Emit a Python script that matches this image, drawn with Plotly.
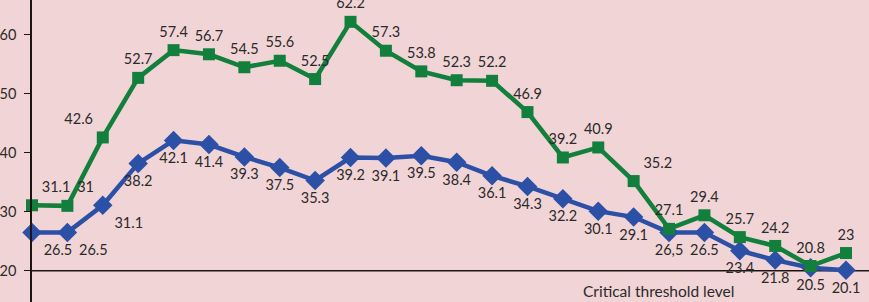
import plotly.graph_objects as go

x_index = list(range(24))
green_values = [31.1, 31, 42.6, 52.7, 57.4, 56.7, 54.5, 55.6, 52.5, 62.2, 57.3, 53.8,
                52.3, 52.2, 46.9, 39.2, 40.9, 35.2, 27.1, 29.4, 25.7, 24.2, 20.8, 23]
blue_values = [26.5, 26.5, 31.1, 38.2, 42.1, 41.4, 39.3, 37.5, 35.3, 39.2, 39.1, 39.5,
               38.4, 36.1, 34.3, 32.2, 30.1, 29.1, 26.5, 26.5, 23.4, 21.8, 20.5, 20.1]
green_labels = ["31.1", "31", "42.6", "52.7", "57.4", "56.7", "54.5", "55.6", "52.5", "62.2",
                "57.3", "53.8", "52.3", "52.2", "46.9", "39.2", "40.9", "35.2", "27.1", "29.4",
                "25.7", "24.2", "20.8", "23"]
blue_labels = ["26.5", "26.5", "31.1", "38.2", "42.1", "41.4", "39.3", "37.5", "35.3", "39.2",
               "39.1", "39.5", "38.4", "36.1", "34.3", "32.2", "30.1", "29.1", "26,5", "26.5",
               "23.4", "21.8", "20.5", "20.1"]
y_ticks = [20, 30, 40, 50, 60]
threshold = 20
threshold_label = "Critical threshold level"

GREEN = "#12803C"
BLUE = "#2C50A6"
BG = "#F1D4D6"
TXT = "#2a2a2a"
FONT = "Lato"

green_pos = ["top center"] * 24
green_pos[0] = "top right"
green_pos[1] = "top right"
green_pos[2] = "top left"
green_pos[17] = "top right"
blue_pos = ["bottom center"] * 24
blue_pos[0] = "bottom right"
blue_pos[1] = "bottom right"
blue_pos[2] = "bottom right"

fig = go.Figure()
fig.add_hline(y=threshold, line=dict(color="#1e1414", width=1.5), layer="below")

fig.add_trace(go.Scatter(
    x=x_index, y=blue_values, mode="lines+markers",
    line=dict(color=BLUE, width=4.5),
    marker=dict(symbol="diamond", size=15, color=BLUE),
    cliponaxis=False, showlegend=False, hoverinfo="skip",
))
fig.add_trace(go.Scatter(
    x=x_index, y=green_values, mode="lines+markers",
    line=dict(color=GREEN, width=4.5),
    marker=dict(symbol="square", size=12, color=GREEN),
    cliponaxis=False, showlegend=False, hoverinfo="skip",
))
# label layers (invisible markers control the text offset)
fig.add_trace(go.Scatter(
    x=x_index, y=blue_values, mode="markers+text",
    marker=dict(size=17, opacity=0),
    text=blue_labels, textposition=blue_pos,
    textfont=dict(family=FONT, size=14.5, color=TXT),
    cliponaxis=False, showlegend=False, hoverinfo="skip",
))
fig.add_trace(go.Scatter(
    x=x_index, y=green_values, mode="markers+text",
    marker=dict(size=14, opacity=0),
    text=green_labels, textposition=green_pos,
    textfont=dict(family=FONT, size=14.5, color=TXT),
    cliponaxis=False, showlegend=False, hoverinfo="skip",
))

fig.add_annotation(x=0.748, xref="paper", xanchor="center", y=0.0, yref="paper",
                   yanchor="bottom", text=threshold_label, showarrow=False,
                   font=dict(family=FONT, size=15.5, color=TXT))

fig.update_xaxes(range=[0, 23.65], showgrid=False, zeroline=False, showticklabels=False,
                 ticks="", showline=False)
fig.update_yaxes(range=[14.7, 65.9], tickvals=y_ticks, showgrid=False, zeroline=False,
                 showline=True, linecolor="#1e1414", linewidth=1.5,
                 ticks="outside", ticklen=6, tickcolor="#1e1414", tickwidth=1.2,
                 ticklabelstandoff=5,
                 tickfont=dict(family=FONT, size=14.5, color=TXT))

fig.update_layout(
    width=869, height=302,
    margin=dict(l=32, r=0, t=0, b=0),
    paper_bgcolor=BG, plot_bgcolor=BG,
)

fig.write_html("out.html", config={"displayModeBar": False},
               post_script="document.body.style.margin='0px';document.body.style.overflow='hidden';")
